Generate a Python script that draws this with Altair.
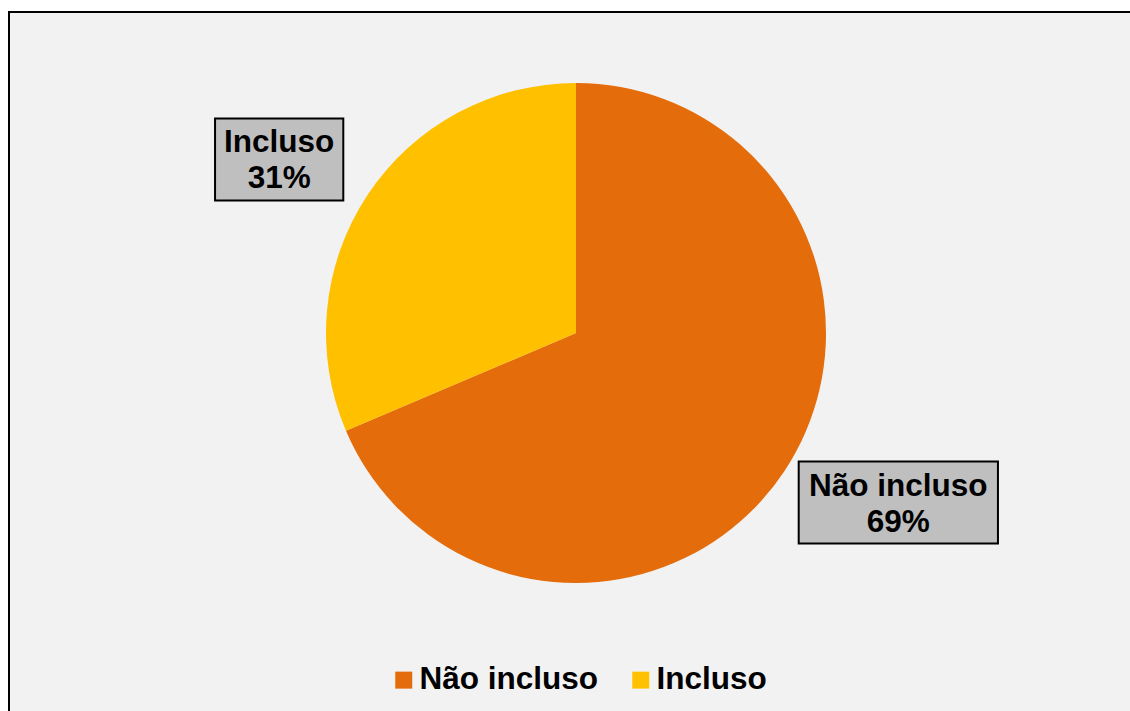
import math
import altair as alt
import pandas as pd

# ---- data ----
categories = ["Não incluso", "Incluso"]
values = [68.6, 31.4]
colors = ["#E46C0A", "#FFC000"]

# ---- layout constants ----
W, H = 1122, 700
CX, CY = 568, 322          # pie centre in view coords
R = 250
RX, RY = 273, 311          # label placement radii
LDX, LDY = -5, -2          # label nudge
FONT = "Liberation Sans"
FS = 31.5

total = sum(values)
rows = []
start = 0.0
for i, (c, v) in enumerate(zip(categories, values)):
    span = v / total * 2 * math.pi
    mid = start + span / 2
    start += span
    s, co = math.sin(mid), math.cos(mid)
    halfw = (17.75 * max(len(c), 4) + 4) / 2
    halfh = 41
    cx = CX + s * RX + (1 if s >= 0 else -1) * halfw + LDX
    cy = CY - co * RY + LDY
    rows.append(dict(cat=c, value=v, order=i,
                     label=f"{c}\n{round(v / total * 100)}%",
                     x1=cx - halfw, x2=cx + halfw, y1=cy - halfh, y2=cy + halfh,
                     cx=cx, cy=cy))
df = pd.DataFrame(rows)

pie = alt.Chart(df).mark_arc(radius=R, strokeWidth=0).encode(
    theta=alt.Theta("value:Q", stack=True),
    order=alt.Order("order:Q"),
    color=alt.Color(
        "cat:N",
        scale=alt.Scale(domain=categories, range=colors),
        sort=categories,
        legend=alt.Legend(
            orient="none", legendX=380, legendY=653, direction="horizontal",
            columns=2, title=None, symbolType="square", symbolSize=289,
            symbolStrokeWidth=0, symbolOpacity=1, labelFontSize=FS,
            labelFont=FONT, labelFontWeight="bold", labelColor="black",
            columnPadding=26, labelOffset=0, padding=0, labelLimit=400,
        ),
    ),
    x=alt.value(CX),
    y=alt.value(CY),
)

boxes = alt.Chart(df).mark_rect(fill="#BFBFBF", stroke="black", strokeWidth=2).encode(
    x=alt.X("x1:Q", scale=None, axis=None),
    x2="x2:Q",
    y=alt.Y("y1:Q", scale=None, axis=None),
    y2="y2:Q",
)

texts = alt.Chart(df).mark_text(
    font=FONT, fontSize=FS, fontWeight="bold", color="black",
    lineBreak="\n", lineHeight=36, align="center", baseline="middle", dy=-16,
).encode(
    x=alt.X("cx:Q", scale=None, axis=None),
    y=alt.Y("cy:Q", scale=None, axis=None),
    text="label:N",
)

top_rule = alt.Chart(df).mark_rule(color="black", strokeWidth=2).encode(
    x=alt.value(0), x2=alt.value(W), y=alt.value(1)
)
left_rule = alt.Chart(df).mark_rule(color="black", strokeWidth=2).encode(
    x=alt.value(1), y=alt.value(0), y2=alt.value(H)
)

chart = alt.layer(pie, boxes, texts, top_rule, left_rule).properties(
    width=W, height=H, background="white", autosize="none",
    padding={"left": 8, "top": 11, "right": 0, "bottom": 0},
).configure_view(fill="#F2F2F2", stroke=None)

chart.save("out.html", embed_options={"renderer": "svg", "actions": False})
